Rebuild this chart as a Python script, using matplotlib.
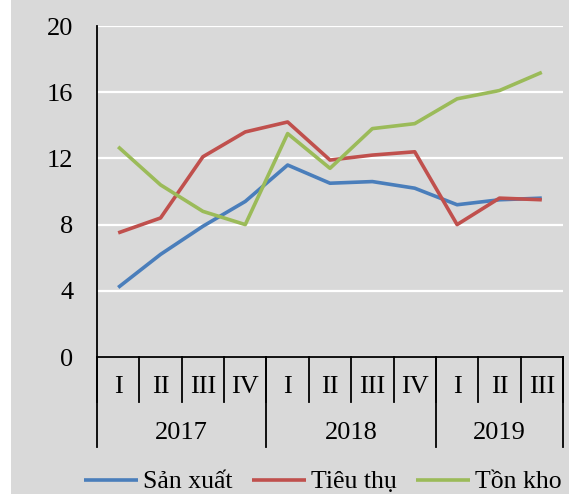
import matplotlib
matplotlib.use("Agg")
import matplotlib.pyplot as plt
import matplotlib.patches as mpatches

years = ["2017", "2018", "2019"]
quarters_per_year = [["I", "II", "III", "IV"], ["I", "II", "III", "IV"], ["I", "II", "III"]]
san_xuat = [4.2, 6.2, 7.9, 9.4, 11.6, 10.5, 10.6, 10.2, 9.2, 9.5, 9.6]
tieu_thu = [7.5, 8.4, 12.1, 13.6, 14.2, 11.9, 12.2, 12.4, 8.0, 9.6, 9.5]
ton_kho = [12.7, 10.4, 8.8, 8.0, 13.5, 11.4, 13.8, 14.1, 15.6, 16.1, 17.2]
series_names = ["Sản xuất", "Tiêu thụ", "Tồn kho"]
yticks = [0, 4, 8, 12, 16, 20]

colors = ["#4a7ebb", "#c0504d", "#9bbb59"]
BG = "#d9d9d9"
FONT = "Liberation Serif"
FS = 19

fig = plt.figure(figsize=(5.69, 4.94), dpi=100)
fig.patch.set_facecolor("white")
fig.patches.append(mpatches.Rectangle((11 / 569, 0), 1 - 11 / 569, 1, transform=fig.transFigure,
                                      facecolor=BG, edgecolor="none", zorder=-10))

ax = fig.add_axes([97 / 569, 1 - 357 / 494, (563 - 97) / 569, 331 / 494])
ax.set_facecolor(BG)

labels = [q for qs in quarters_per_year for q in qs]
n = len(labels)
x = [i + 0.5 for i in range(n)]

for vals, c, name in zip([san_xuat, tieu_thu, ton_kho], colors, series_names):
    ax.plot(x, vals, color=c, lw=2.6, label=name, solid_capstyle="butt", zorder=3)

ax.set_xlim(0, n)
ax.set_ylim(0, 20)
ax.set_yticks(yticks)
ax.set_yticklabels([str(v) for v in yticks], fontfamily=FONT, fontsize=FS)
ax.tick_params(axis="y", length=0, pad=17)
ax.set_xticks([])
ax.yaxis.grid(True, color="white", lw=1.6)
ax.set_axisbelow(True)
for s in ["top", "right"]:
    ax.spines[s].set_visible(False)
ax.spines["left"].set_color("black")
ax.spines["left"].set_linewidth(1.3)
ax.spines["bottom"].set_color("black")
ax.spines["bottom"].set_linewidth(1.3)

tr = ax.get_xaxis_transform()
h = 331.0
q_y = -(387 - 357) / h
y_y = -(433 - 357) / h
q_end = -(402 - 357) / h
y_end = -(447 - 357) / h

for i, lab in enumerate(labels):
    ax.text(i + 0.5, q_y, lab, transform=tr, ha="center", va="center",
            fontfamily=FONT, fontsize=FS)

# quarter dividers
for b in range(n + 1):
    ax.plot([b, b], [0, q_end], transform=tr, color="black", lw=1.3, clip_on=False)

# year dividers and labels
start = 0
bounds = [0]
for yr, qs in zip(years, quarters_per_year):
    end = start + len(qs)
    ax.text((start + end) / 2, y_y, yr, transform=tr, ha="center", va="center",
            fontfamily=FONT, fontsize=FS)
    bounds.append(end)
    start = end
for b in bounds:
    ax.plot([b, b], [0, y_end], transform=tr, color="black", lw=1.3, clip_on=False)

leg = fig.legend(loc="center", bbox_to_anchor=(0.567, 1 - 482 / 494), ncol=3, frameon=False,
                 prop={"family": FONT, "size": 18.5}, handlelength=2.1, handletextpad=0.2,
                 columnspacing=0.75)

fig.savefig("out.png", dpi=100, facecolor=fig.get_facecolor())
